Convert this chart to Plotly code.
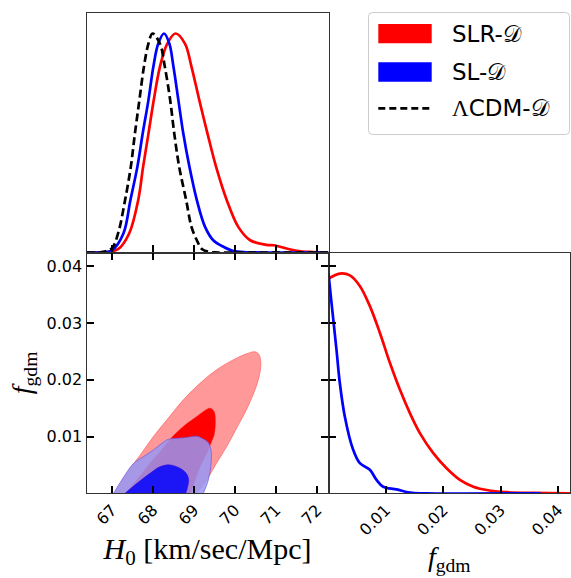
import plotly.graph_objects as go

W, H = 571, 578

# ---------------- data ----------------
# 1D marginal of H0 (normalised to peak = 1)
h0_slr = [66.38, 66.9, 67.15, 67.42, 67.64, 67.76, 67.89, 68.02, 68.17, 68.35, 68.55, 68.78,
          68.94, 69.13, 69.33, 69.54, 69.80, 70.08, 70.37, 70.77, 70.94, 71.10, 71.50, 71.91, 72.28]
p_slr = [0.0, 0.002, 0.015, 0.087, 0.239, 0.391, 0.543, 0.696, 0.848, 0.954, 1.0, 0.954,
         0.848, 0.696, 0.543, 0.391, 0.239, 0.117, 0.056, 0.035, 0.033, 0.026, 0.008, 0.002, 0.0]

h0_sl = [66.38, 66.8, 67.0, 67.28, 67.45, 67.62, 67.75, 67.89, 68.01, 68.13, 68.27, 68.40,
         68.50, 68.62, 68.74, 68.89, 69.07, 69.27, 69.47, 69.72, 70.0, 70.5, 72.28]
p_sl = [0.0, 0.001, 0.01, 0.087, 0.239, 0.391, 0.543, 0.696, 0.848, 0.954, 1.0, 0.954,
        0.848, 0.696, 0.543, 0.391, 0.239, 0.117, 0.056, 0.026, 0.005, 0.001, 0.0]

h0_lcdm = [66.38, 66.75, 67.0, 67.15, 67.32, 67.46, 67.56, 67.67, 67.78, 67.89, 67.99, 68.17,
           68.29, 68.42, 68.52, 68.64, 68.81, 68.94, 69.07, 69.2, 69.4, 69.6, 72.28]
p_lcdm = [0.0, 0.002, 0.02, 0.087, 0.239, 0.391, 0.543, 0.696, 0.848, 0.954, 1.0, 0.954,
          0.848, 0.696, 0.543, 0.391, 0.239, 0.117, 0.056, 0.015, 0.002, 0.0, 0.0]

# 1D marginal of f_gdm
f_slr = [0.0, 0.00197, 0.00372, 0.00546, 0.00721, 0.00895, 0.0107, 0.01244, 0.01419, 0.01593,
         0.01826, 0.02059, 0.02291, 0.02524, 0.02757, 0.03106, 0.03571, 0.0421]
pf_slr = [0.977, 1.0, 0.992, 0.944, 0.852, 0.731, 0.594, 0.472, 0.365, 0.274,
          0.183, 0.114, 0.061, 0.030, 0.015, 0.005, 0.0015, 0.0]

f_sl = [0.0, 0.00052, 0.00139, 0.00197, 0.00284, 0.0043, 0.00546, 0.00721, 0.00837, 0.00953,
        0.01186, 0.01419, 0.017, 0.037]
pf_sl = [1.0, 0.868, 0.654, 0.503, 0.35, 0.198, 0.137, 0.107, 0.061, 0.03,
         0.018, 0.003, 0.0, 0.0]

# 2D credible contours (H0, f_gdm) boundary points
slr_95_h0 = [67.08, 67.36, 67.69, 68.01, 68.34, 68.74, 69.15, 69.55, 69.96, 70.28, 70.49, 70.59,
             70.63, 70.59, 70.49, 70.28, 70.04, 69.80, 69.55, 69.31, 69.07]
slr_95_f = [0.0, 0.00353, 0.00676, 0.00999, 0.01293, 0.01646, 0.01940, 0.02175, 0.02352, 0.02457,
            0.02493, 0.02440, 0.02263, 0.02058, 0.01822, 0.01470, 0.01146, 0.00823, 0.00529,
            0.00235, 0.0]

slr_68_h0 = [67.32, 67.61, 67.93, 68.18, 68.42, 68.74, 69.07, 69.27, 69.39, 69.49, 69.52, 69.49,
             69.41, 69.31, 69.15, 69.03, 68.92]
slr_68_f = [0.0, 0.00235, 0.00529, 0.00735, 0.00952, 0.01176, 0.01352, 0.01458, 0.01499, 0.01440,
            0.01264, 0.01029, 0.00882, 0.00705, 0.00470, 0.00235, 0.0]

sl_95_h0 = [67.04, 67.24, 67.53, 67.77, 68.01, 68.22, 68.38, 68.74, 69.07, 69.19, 69.35, 69.42,
            69.41, 69.35, 69.23]
sl_95_f = [0.0, 0.00235, 0.00529, 0.00647, 0.00764, 0.00882, 0.00952, 0.00976, 0.01005, 0.00970,
           0.00894, 0.00735, 0.00470, 0.00235, 0.0]

sl_68_h0 = [67.32, 67.61, 67.93, 68.18, 68.42, 68.66, 68.81, 68.87, 68.80]
sl_68_f = [0.0, 0.00176, 0.00353, 0.00470, 0.00500, 0.00441, 0.00353, 0.00235, 0.0]

h0_ticks = [67, 68, 69, 70, 71, 72]
f_ticks = [0.01, 0.02, 0.03, 0.04]
f_ticktext = ["0.01", "0.02", "0.03", "0.04"]

legend_labels = ["SLR-𝒟", "SL-𝒟", "<span style='font-family:Liberation Serif'>Λ</span>CDM-𝒟"]

# ---------------- layout geometry (pixels) ----------------
def px(x):
    return x / W

def py(y):
    return 1 - y / H

xL = [px(86.5), px(328.5)]
xR = [px(328.5), px(570)]
yT = [py(252.5), py(12.5)]
yB = [py(493.3), py(252.5)]

H0_RANGE = [66.38, 72.28]
F_RANGE = [0, 0.0424]
P_RANGE = [0, 1.096]

fig = go.Figure()

# top-left: H0 marginals
fig.add_trace(go.Scatter(x=h0_slr, y=p_slr, mode="lines", line=dict(color="#ff0000", width=2.7, shape="spline"),
                         xaxis="x", yaxis="y", showlegend=False))
fig.add_trace(go.Scatter(x=h0_sl, y=p_sl, mode="lines", line=dict(color="#0000ff", width=2.7, shape="spline"),
                         xaxis="x", yaxis="y", showlegend=False))
fig.add_trace(go.Scatter(x=h0_lcdm, y=p_lcdm, mode="lines",
                         line=dict(color="#000000", width=2.7, dash="8px,4px", shape="spline"),
                         xaxis="x", yaxis="y", showlegend=False))

# bottom-left: 2D contours
fig.add_trace(go.Scatter(x=slr_95_h0, y=slr_95_f, mode="lines", fill="toself",
                         fillcolor="rgba(255,0,0,0.4)", line=dict(color="rgba(255,60,60,0.6)", width=0.8, shape="spline"),
                         xaxis="x2", yaxis="y2", showlegend=False))
fig.add_trace(go.Scatter(x=slr_68_h0, y=slr_68_f, mode="lines", fill="toself",
                         fillcolor="rgba(255,0,0,1)", line=dict(color="rgba(255,0,0,1)", width=0.5, shape="spline"),
                         xaxis="x2", yaxis="y2", showlegend=False))
fig.add_trace(go.Scatter(x=sl_95_h0, y=sl_95_f, mode="lines", fill="toself",
                         fillcolor="rgba(152,152,244,0.85)", line=dict(color="rgba(110,80,220,0.8)", width=0.8, shape="spline"),
                         xaxis="x2", yaxis="y2", showlegend=False))
fig.add_trace(go.Scatter(x=sl_68_h0, y=sl_68_f, mode="lines", fill="toself",
                         fillcolor="rgba(0,0,255,0.83)", line=dict(color="rgba(40,0,210,0.8)", width=0.6, shape="spline"),
                         xaxis="x2", yaxis="y2", showlegend=False))

# bottom-right: f_gdm marginals
fig.add_trace(go.Scatter(x=f_slr, y=pf_slr, mode="lines", line=dict(color="#ff0000", width=2.7, shape="spline"),
                         xaxis="x3", yaxis="y3", showlegend=False))
fig.add_trace(go.Scatter(x=f_sl, y=pf_sl, mode="lines", line=dict(color="#0000ff", width=2.7, shape="spline"),
                         xaxis="x3", yaxis="y3", showlegend=False))
# invisible trace so the tick-only overlay axis is drawn
fig.add_trace(go.Scatter(x=[None], y=[None], xaxis="x3", yaxis="y4", showlegend=False, hoverinfo="skip"))

tickfont = dict(family="DejaVu Sans", size=16, color="#000000")
LINE = "#333333"
common = dict(showline=True, linecolor=LINE, linewidth=1.2, showgrid=False, zeroline=False,
              ticks="inside", ticklen=7, tickwidth=2.2, tickcolor="#000000", tickfont=tickfont)

fig.update_layout(
    width=W, height=H,
    margin=dict(l=0, r=0, t=0, b=0),
    paper_bgcolor="white", plot_bgcolor="white",
    showlegend=False,
    xaxis=dict(domain=xL, anchor="y", range=H0_RANGE, tickvals=h0_ticks, showticklabels=False,
               mirror=True, **common),
    yaxis=dict(domain=yT, anchor="x", range=P_RANGE, showticklabels=False,
               showline=True, linecolor=LINE, linewidth=1.2, mirror=True, ticks="",
               showgrid=False, zeroline=False),
    xaxis2=dict(domain=xL, anchor="y2", range=H0_RANGE, tickvals=h0_ticks, tickangle=-45,
                mirror="ticks",
                title=dict(text="<i>H</i><sub>0</sub> [km/sec/Mpc]",
                           font=dict(family="Liberation Serif", size=30, color="#000000"), standoff=10),
                **common),
    yaxis2=dict(domain=yB, anchor="x2", range=F_RANGE, tickvals=f_ticks, ticktext=f_ticktext,
                mirror="ticks",
                title=dict(text="<i>f</i><sub>gdm</sub>",
                           font=dict(family="Liberation Serif", size=28, color="#000000"), standoff=6),
                **common),
    xaxis3=dict(domain=xR, anchor="y3", range=[0, 0.0421], tickvals=f_ticks, ticktext=f_ticktext,
                tickangle=-45, mirror=True,
                title=dict(text="<i>f</i><sub>gdm</sub>",
                           font=dict(family="Liberation Serif", size=28, color="#000000"), standoff=8),
                **common),
    yaxis3=dict(domain=yB, anchor="x3", range=P_RANGE, showticklabels=False, ticks="",
                showline=True, linecolor=LINE, linewidth=1.2, mirror=True,
                showgrid=False, zeroline=False),
    yaxis4=dict(overlaying="y3", anchor="x3", side="left", range=F_RANGE, tickvals=f_ticks,
                showticklabels=False, showline=False, showgrid=False, zeroline=False,
                ticks="inside", ticklen=7, tickwidth=2.2, tickcolor="#000000"),
)

# ---------------- legend (frame, keys and labels) ----------------
lx0, lx1, ly0, ly1, r = 368.5, 569.5, 12.5, 134.5, 4
path = (f"M {px(lx0 + r)},{py(ly0)} L {px(lx1 - r)},{py(ly0)} Q {px(lx1)},{py(ly0)} {px(lx1)},{py(ly0 + r)} "
        f"L {px(lx1)},{py(ly1 - r)} Q {px(lx1)},{py(ly1)} {px(lx1 - r)},{py(ly1)} "
        f"L {px(lx0 + r)},{py(ly1)} Q {px(lx0)},{py(ly1)} {px(lx0)},{py(ly1 - r)} "
        f"L {px(lx0)},{py(ly0 + r)} Q {px(lx0)},{py(ly0)} {px(lx0 + r)},{py(ly0)} Z")
shapes = [dict(type="path", path=path, xref="paper", yref="paper",
               line=dict(color="#cccccc", width=1), fillcolor="rgba(255,255,255,0.8)", layer="above")]
key_colors = ["#ff0000", "#0000ff"]
key_rows = [(24, 43.3), (62.3, 81.7)]
for c, (a, b) in zip(key_colors, key_rows):
    shapes.append(dict(type="rect", xref="paper", yref="paper", x0=px(378.3), x1=px(431.7),
                       y0=py(b), y1=py(a), fillcolor=c, line=dict(width=0), layer="above"))
shapes.append(dict(type="line", xref="paper", yref="paper", x0=px(378.3), x1=px(431.7),
                   y0=py(108.3), y1=py(108.3), line=dict(color="#000000", width=2.7, dash="7px,4px"),
                   layer="above"))
fig.update_layout(shapes=shapes)

label_y = [34, 72, 108.3]
for txt, yy in zip(legend_labels, label_y):
    fig.add_annotation(x=px(450), y=py(yy), xref="paper", yref="paper", text=txt, showarrow=False,
                       xanchor="left", yanchor="middle",
                       font=dict(family="DejaVu Sans", size=23, color="#000000"))

fig.write_html("out.html", config={"displayModeBar": False},
               post_script="document.body.style.margin='0';")
